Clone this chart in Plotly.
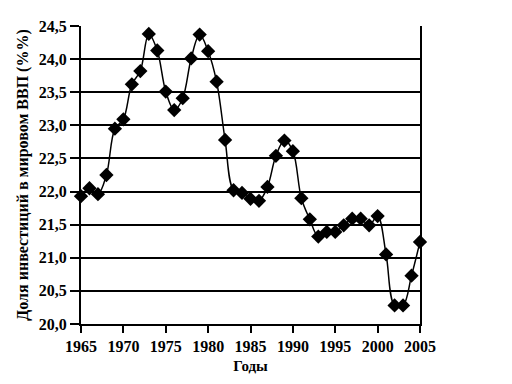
import plotly.graph_objects as go

years = list(range(1965, 2006))
share = [21.93, 22.05, 21.96, 22.25, 22.95, 23.09, 23.62, 23.82, 24.38, 24.13,
         23.51, 23.23, 23.41, 24.01, 24.37, 24.12, 23.66, 22.78, 22.02, 21.98,
         21.89, 21.86, 22.07, 22.54, 22.77, 22.61, 21.90, 21.58, 21.32, 21.39,
         21.39, 21.49, 21.59, 21.59, 21.49, 21.63, 21.05, 20.28, 20.28, 20.73,
         21.24]
x_ticks = list(range(1965, 2006, 5))
y_ticks = [20.0, 20.5, 21.0, 21.5, 22.0, 22.5, 23.0, 23.5, 24.0, 24.5]

font_family = "Liberation Serif"

fig = go.Figure()
fig.add_trace(go.Scatter(
    x=years, y=share, mode="lines+markers",
    line=dict(color="black", width=1.5, shape="spline", smoothing=1.0),
    marker=dict(symbol="diamond", size=11, color="black"),
    showlegend=False,
    cliponaxis=False,
))

fig.update_layout(
    width=512, height=384,
    margin=dict(l=73, r=100, t=10, b=68),
    paper_bgcolor="white", plot_bgcolor="white",
    separators=",.",
    font=dict(family=font_family, color="black", size=14),
    xaxis=dict(
        range=[1965, 2005], tickvals=x_ticks,
        showgrid=False, zeroline=False,
        showline=True, linecolor="black", linewidth=2,
        ticks="outside", ticklen=7, tickwidth=2, tickcolor="black",
        tickfont=dict(family=font_family, size=16, color="black", weight="bold"),
        title=dict(text="<b>Годы</b>", font=dict(family=font_family, size=15), standoff=6),
    ),
    yaxis=dict(
        range=[20.0, 24.5], tickvals=y_ticks, tickformat=".1f",
        showgrid=True, gridcolor="black", gridwidth=1.5, zeroline=False,
        showline=True, linecolor="black", linewidth=2, mirror=True,
        ticks="outside", ticklen=9, tickwidth=2, tickcolor="black",
        tickfont=dict(family=font_family, size=16, color="black", weight="bold"),
        title=dict(text="<b>Доля инвестиций в мировом ВВП (%%)</b>",
                   font=dict(family=font_family, size=16), standoff=6),
    ),
)

fig.write_html("out.html")
